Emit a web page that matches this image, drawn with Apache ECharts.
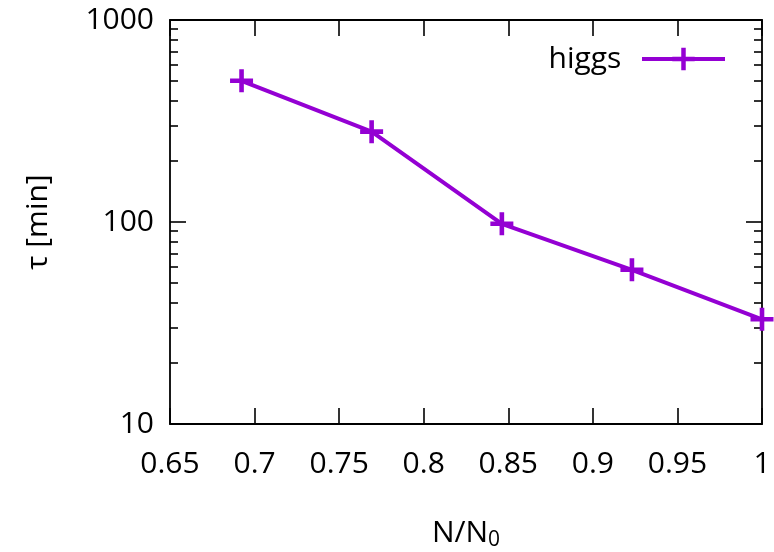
<!DOCTYPE html>
<html>
<head>
<meta charset="utf-8">
<script src="https://cdn.jsdelivr.net/npm/echarts@6/dist/echarts.min.js"></script>
<style>html,body{margin:0;padding:0;background:#fff;}#c{width:774px;height:552px;}</style>
</head>
<body>
<div id="c"></div>
<script>
// Data
const seriesName = 'higgs';
const xValues = [0.6923, 0.7692, 0.8462, 0.9231, 1.0];
const tauValues = [500, 280, 98, 58, 33];
const yMinorTicks = [20, 30, 40, 50, 60, 70, 80, 90, 200, 300, 400, 500, 600, 700, 800, 900];

const FONT = '"Open Sans", sans-serif';
const FS = 30;
const COLOR = '#9400D3';
const plus = 'path://M8,0h4v8h8v4h-8v8h-4v-8h-8v-4h8z';

const chart = echarts.init(document.getElementById('c'), null, {renderer: 'canvas'});

function majorY(pos, showLabel, extra) {
  return Object.assign({
    type: 'log', logBase: 10, min: 10, max: 1000, position: pos,
    axisLine: {show: true, lineStyle: {color: '#000', width: 1.8}},
    axisTick: {show: true, inside: true, length: 16, lineStyle: {color: '#000', width: 1.6}},
    axisLabel: {show: showLabel, fontFamily: FONT, fontSize: FS, color: '#000', margin: 16,
      formatter: v => String(Math.round(v))},
    splitLine: {show: false}
  }, extra || {});
}
// minor ticks of the log axis, placed on a companion axis in decades (log10 space)
function minorY(pos) {
  return {
    type: 'value', min: 1, max: 3, position: pos, offset: 0,
    axisLine: {show: false},
    axisTick: {show: true, inside: true, length: 8, customValues: yMinorTicks.map(v => Math.log10(v)),
      lineStyle: {color: '#000', width: 1.6}},
    axisLabel: {show: false},
    splitLine: {show: false}
  };
}

const option = {
  animation: false,
  backgroundColor: '#fff',
  grid: {left: 170, right: 12, top: 20, bottom: 128, containLabel: false, outerBoundsMode: 'none'},
  legend: {
    data: [seriesName], right: 47, top: 44, align: 'right', padding: 0,
    itemWidth: 83, itemHeight: 28,
    lineStyle: {width: 4, color: COLOR},
    formatter: n => n + '\u00a0\u00a0',
    textStyle: {fontFamily: FONT, fontSize: FS, color: '#000'}
  },
  xAxis: [
    {
      type: 'value', min: 0.65, max: 1, interval: 0.05, position: 'bottom',
      axisLine: {show: true, onZero: false, lineStyle: {color: '#000', width: 1.8}},
      axisTick: {show: true, inside: true, length: 16, lineStyle: {color: '#000', width: 1.6}},
      axisLabel: {fontFamily: FONT, fontSize: FS, color: '#000', margin: 25},
      splitLine: {show: false},
      name: '{n|N/N}{s|0}', nameLocation: 'middle', nameGap: 91,
      nameTextStyle: {
        rich: {
          n: {fontFamily: FONT, fontSize: FS, color: '#000'},
          s: {fontFamily: FONT, fontSize: 21, color: '#000', padding: [15, 0, 0, 0]}
        }
      }
    },
    {
      type: 'value', min: 0.65, max: 1, interval: 0.05, position: 'top',
      axisLine: {show: true, onZero: false, lineStyle: {color: '#000', width: 1.8}},
      axisTick: {show: true, inside: true, length: 16, lineStyle: {color: '#000', width: 1.6}},
      axisLabel: {show: false},
      splitLine: {show: false}
    }
  ],
  yAxis: [
    majorY('left', true, {
      name: 'τ [min]', nameLocation: 'middle', nameRotate: 90, nameGap: 117,
      nameTextStyle: {fontFamily: FONT, fontSize: FS, color: '#000'}
    }),
    minorY('left'),
    majorY('right', false),
    minorY('right')
  ],
  series: [{
    name: seriesName, type: 'line', xAxisIndex: 0, yAxisIndex: 0,
    data: xValues.map((x, i) => [x, tauValues[i]]),
    symbol: plus, symbolSize: 23,
    itemStyle: {color: COLOR},
    lineStyle: {color: COLOR, width: 4},
    clip: false
  }]
};
chart.setOption(option);
</script>
</body>
</html>
